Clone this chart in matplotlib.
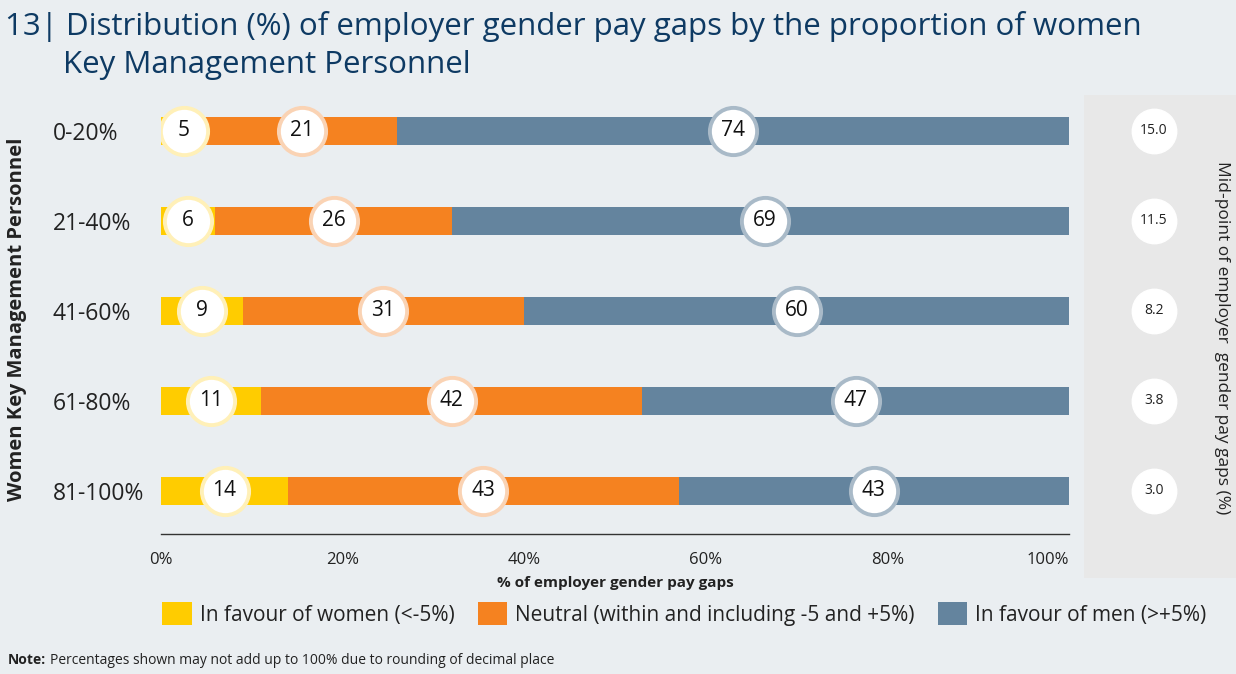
import matplotlib
matplotlib.use("Agg")
import matplotlib.pyplot as plt
import numpy as np

plt.rcParams['font.family'] = ['Open Sans', 'DejaVu Sans']

# data
groups = ['0-20%', '21-40%', '41-60%', '61-80%', '81-100%']
women = [5, 6, 9, 11, 14]
neutral = [21, 26, 31, 42, 43]
men = [74, 69, 60, 47, 43]
midpoints = ['15.0', '11.5', '8.2', '3.8', '3.0']
series_names = ['In favour of women (<-5%)',
                'Neutral (within and including -5 and +5%)',
                'In favour of men (>+5%)']

# colours
bg = '#EAEEF1'
c_women, c_neutral, c_men = '#FFCC00', '#F58220', '#64849E'
edge_women, edge_neutral, edge_men = '#FFF0B8', '#FAD3B4', '#A9BAC8'
title_col = '#0E3A63'
txt = '#222222'

W, H = 1236, 674
fig = plt.figure(figsize=(W / 100, H / 100), dpi=100, facecolor=bg)

def px(x0, y0, x1, y1):
    # pixel box -> figure fraction [left, bottom, width, height]
    return [x0 / W, 1 - y1 / H, (x1 - x0) / W, (y1 - y0) / H]

# right panel (mid-points)
axr = fig.add_axes(px(1084, 95, 1236, 578))
axr.set_facecolor('#E8E8E8')
axr.set_xlim(0, 1)
axr.set_ylim(4 + (578 - 491) / 90, -(131 - 95) / 90)
for s in axr.spines.values():
    s.set_visible(False)
axr.set_xticks([])
axr.set_yticks([])
y = np.arange(len(groups))
axr.plot([0.46] * len(y), y, 'o', ms=32, mfc='white', mec='white', zorder=3)
for yi, m in zip(y, midpoints):
    axr.text(0.46, yi, m, ha='center', va='center', fontsize=10, color=txt, zorder=4)
axr.text(0.905, 2.3, 'Mid-point of employer  gender pay gaps (%)', rotation=-90,
         ha='center', va='center', fontsize=12.5, color=txt)

# main stacked bars
ax = fig.add_axes(px(161, 86, 1069, 534))
ax.set_facecolor('none')
women = np.array(women)
neutral = np.array(neutral)
men = np.array(men)
bh = 0.31
ax.barh(y, women, height=bh, color=c_women, label=series_names[0])
ax.barh(y, neutral, left=women, height=bh, color=c_neutral, label=series_names[1])
ax.barh(y, men, left=women + neutral, height=bh, color=c_men, label=series_names[2])

starts = [np.zeros(len(y)), women, women + neutral]
for vals, st, ec in zip([women, neutral, men], starts, [edge_women, edge_neutral, edge_men]):
    cx = st + vals / 2
    ax.plot(cx, y, 'o', ms=34, mfc='white', mec=ec, mew=2.8, zorder=3)
    for xi, yi, v in zip(cx, y, vals):
        ax.text(xi, yi, str(v), ha='center', va='center', fontsize=15, color='#111111', zorder=4)

ax.set_xlim(0, 100)
ax.set_ylim(4 + (534 - 491) / 90, -0.5)
ax.set_xticks([0, 20, 40, 60, 80, 100])
xl = ax.set_xticklabels(['0%', '20%', '40%', '60%', '80%', '100%'], fontsize=12, color=txt)
xl[-1].set_horizontalalignment('right')
ax.set_yticks(y)
ax.set_yticklabels(groups, fontsize=16.5, color=txt, ha='left')
ax.tick_params(axis='y', length=0, pad=78)
ax.tick_params(axis='x', length=0, pad=13)
for k in ['top', 'right', 'left']:
    ax.spines[k].set_visible(False)
ax.spines['bottom'].set_color('#333333')
ax.spines['bottom'].set_linewidth(1.0)
ax.set_xlabel('% of employer gender pay gaps', fontsize=11, fontweight='bold', color=txt, labelpad=6)

fig.text(17 / W, 1 - 319 / H, 'Women Key Management Personnel', rotation=90,
         ha='center', va='center', fontsize=14.5, fontweight='bold', color=txt)

# title
fig.text(5 / W, 1 - 35 / H, '13| Distribution (%) of employer gender pay gaps by the proportion of women',
         fontsize=22.5, color=title_col, ha='left', va='baseline')
fig.text(63 / W, 1 - 73 / H, 'Key Management Personnel',
         fontsize=22.5, color=title_col, ha='left', va='baseline')

# legend
handles, labels = ax.get_legend_handles_labels()
fig.legend(handles, labels, loc='center left', bbox_to_anchor=(152 / W, 1 - 614 / H),
           ncol=3, frameon=False, fontsize=15, handlelength=1.4, handleheight=1.3,
           handletextpad=0.4, columnspacing=1.1, borderpad=0, labelcolor=txt)

# note
t1 = fig.text(8 / W, 1 - 660 / H, 'Note:', fontsize=10, fontweight='bold', color=txt, va='center')
fig.canvas.draw()
bb = t1.get_window_extent()
fig.text((bb.x1 + 4) / W, 1 - 660 / H,
         'Percentages shown may not add up to 100% due to rounding of decimal place',
         fontsize=10, color=txt, va='center')

fig.savefig('out.png', dpi=100, facecolor=bg)
